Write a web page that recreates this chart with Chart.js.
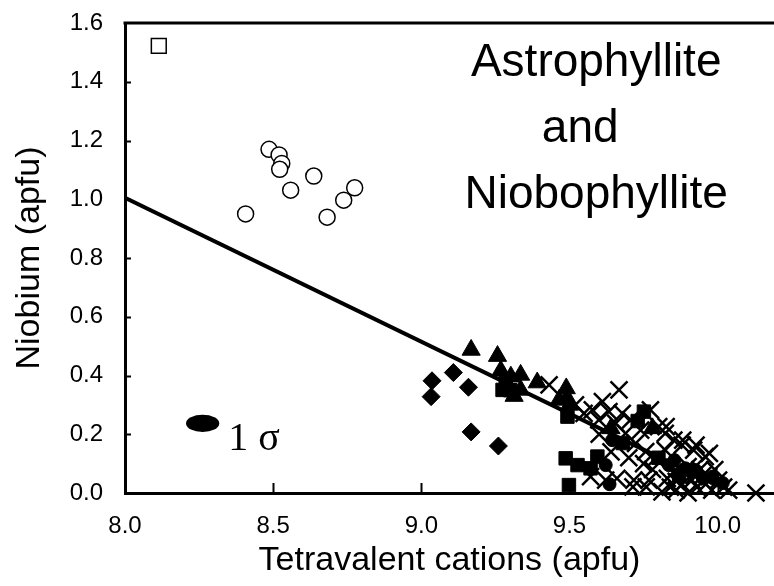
<!DOCTYPE html>
<html>
<head>
<meta charset="utf-8">
<script src="https://cdn.jsdelivr.net/npm/chart.js@4.4.1/dist/chart.umd.min.js"></script>
<style>
  html, body { margin: 0; padding: 0; background: #fff; }
</style>
</head>
<body>
<canvas id="niobium-chart" width="774" height="586"></canvas>
<script>
// Niobium vs tetravalent cations, astrophyllite group

// open square (single analysis)
const openSquare = [[8.114, 1.522]];

// open circles
const openCircles = [
  [8.486, 1.170], [8.520, 1.151], [8.529, 1.122], [8.522, 1.102], [8.637, 1.079],
  [8.559, 1.031], [8.775, 1.039], [8.738, 0.997], [8.407, 0.950], [8.682, 0.939]
];

// filled diamonds
const diamonds = [
  [9.036, 0.382], [9.033, 0.328], [9.108, 0.410], [9.159, 0.360], [9.168, 0.208], [9.260, 0.160]
];

// filled triangles
const triangles = [
  [9.168, 0.487], [9.257, 0.466], [9.268, 0.416], [9.302, 0.396], [9.335, 0.402],
  [9.313, 0.330], [9.335, 0.351], [9.391, 0.376], [9.489, 0.356], [9.465, 0.317],
  [9.492, 0.323], [9.500, 0.300], [9.640, 0.220], [9.780, 0.220]
];

// filled squares
const squares = [
  [9.274, 0.351], [9.285, 0.385], [9.300, 0.350], [9.493, 0.260], [9.487, 0.118],
  [9.527, 0.095], [9.594, 0.124], [9.571, 0.084], [9.498, 0.027], [9.751, 0.277],
  [9.730, 0.245], [9.680, 0.170], [9.800, 0.120], [9.870, 0.060]
];

// filled circles
const dots = [
  [9.622, 0.095], [9.644, 0.180], [9.635, 0.030], [9.835, 0.095], [9.891, 0.084],
  [9.925, 0.078], [9.904, 0.078], [9.854, 0.112], [9.983, 0.056], [10.017, 0.034],
  [9.950, 0.050]
];

// crosses
const crosses = [
  [9.431, 0.368], [9.549, 0.271], [9.577, 0.283], [9.599, 0.249], [9.611, 0.311],
  [9.633, 0.277], [9.656, 0.237], [9.667, 0.351], [9.678, 0.271], [9.689, 0.203],
  [9.706, 0.249], [9.723, 0.169], [9.740, 0.214], [9.757, 0.141], [9.773, 0.283],
  [9.790, 0.118], [9.801, 0.226], [9.823, 0.203], [9.823, 0.146], [9.826, 0.226],
  [9.852, 0.180], [9.882, 0.180], [9.880, 0.163], [9.919, 0.146], [9.927, 0.163],
  [9.958, 0.124], [9.972, 0.135], [9.571, 0.056], [9.622, 0.044], [9.660, 0.050],
  [9.717, 0.044], [9.714, 0.021], [9.768, 0.044], [9.759, 0.021], [9.812, 0.004],
  [9.840, 0.020], [9.860, 0.010], [9.880, 0.030], [9.900, 0.000], [9.913, 0.044],
  [9.930, 0.020], [9.950, 0.060], [9.970, 0.056], [9.980, 0.010], [10.003, 0.044],
  [10.020, 0.020], [10.037, 0.010], [10.129, 0.000], [9.850, 0.070], [9.900, 0.090],
  [9.940, 0.080], [9.640, 0.140], [9.700, 0.120], [9.750, 0.100], [9.780, 0.080],
  [9.520, 0.300], [9.600, 0.200], [9.860, 0.040], [9.920, 0.060], [9.960, 0.030],
  [9.990, 0.080], [9.830, 0.050]
];

// regression line end points
const trendLine = [[8.0, 1.005], [10.0, 0.025]];

// 1 sigma error ellipse: centre and semi-axes (apfu)
const sigmaCentre = [8.262, 0.237];
const sigmaAxes = [0.056, 0.029];

const xTicks = [8.0, 8.5, 9.0, 9.5, 10.0];
const yTicks = [0.0, 0.2, 0.4, 0.6, 0.8, 1.0, 1.2, 1.4, 1.6];
const mineralLabel = ['Astrophyllite', 'and', 'Niobophyllite'];

const SANS = '"Liberation Sans", Arial, sans-serif';
const toXY = arr => arr.map(([x, y]) => ({ x, y }));

function markerSet(label, data, style, radius, filled, width) {
  return {
    label,
    data: toXY(data),
    pointStyle: style,
    pointRadius: radius,
    backgroundColor: filled ? '#000' : '#fff',
    borderColor: '#000',
    borderWidth: width,
    clip: false
  };
}

// top border, inward ticks, sigma ellipse and mineral label
const annotate = {
  id: 'annotate',
  afterDatasetsDraw(chart) {
    const { ctx, chartArea: a } = chart;
    const xs = chart.scales.x, ys = chart.scales.y;
    ctx.save();
    ctx.strokeStyle = '#000';

    ctx.lineWidth = 3;
    ctx.beginPath();
    ctx.moveTo(a.left - 1.5, a.top);
    ctx.lineTo(a.right, a.top);
    ctx.stroke();

    ctx.lineWidth = 2;
    xTicks.slice(1).forEach(v => {
      const px = Math.round(xs.getPixelForValue(v)) + 0.5;
      ctx.beginPath();
      ctx.moveTo(px, a.bottom);
      ctx.lineTo(px, a.bottom - 10);
      ctx.stroke();
    });
    yTicks.slice(1, -1).forEach(v => {
      const py = Math.round(ys.getPixelForValue(v)) + 0.5;
      ctx.beginPath();
      ctx.moveTo(a.left, py);
      ctx.lineTo(a.left + 6, py);
      ctx.stroke();
    });

    const cx = xs.getPixelForValue(sigmaCentre[0]);
    const cy = ys.getPixelForValue(sigmaCentre[1]);
    const rx = xs.getPixelForValue(sigmaCentre[0] + sigmaAxes[0]) - cx;
    const ry = cy - ys.getPixelForValue(sigmaCentre[1] + sigmaAxes[1]);
    ctx.fillStyle = '#000';
    ctx.beginPath();
    ctx.ellipse(cx, cy, rx, ry, 0, 0, Math.PI * 2);
    ctx.fill();

    ctx.font = '40px "Liberation Serif", "DejaVu Serif", serif';
    ctx.textBaseline = 'alphabetic';
    ctx.textAlign = 'left';
    ctx.fillText('1 σ', cx + rx + 9, cy + 27);

    ctx.font = '46px ' + SANS;
    ctx.textAlign = 'center';
    const lx = xs.getPixelForValue(9.59);
    const ly = ys.getPixelForValue(1.42);
    mineralLabel.forEach((t, i) => {
      ctx.fillText(t, i === 1 ? lx - 16 : lx, ly + i * 66);
    });
    ctx.restore();
  }
};

new Chart(document.getElementById('niobium-chart'), {
  type: 'scatter',
  data: {
    datasets: [
      {
        label: 'Regression',
        type: 'line',
        data: toXY(trendLine),
        borderColor: '#000',
        borderWidth: 4,
        pointRadius: 0,
        fill: false
      },
      markerSet('Open square', openSquare, 'rect', 10.5, false, 1.5),
      markerSet('Open circles', openCircles, 'circle', 8, false, 1.5),
      markerSet('Diamonds', diamonds, 'rectRot', 9, true, 1),
      markerSet('Triangles', triangles, 'triangle', 10.5, true, 1),
      markerSet('Squares', squares, 'rect', 9.5, true, 1),
      markerSet('Circles', dots, 'circle', 6.5, true, 1),
      markerSet('Crosses', crosses, 'crossRot', 12, false, 2.5)
    ]
  },
  options: {
    responsive: false,
    animation: false,
    events: [],
    layout: { autoPadding: false, padding: { top: 23, right: 0, left: 0, bottom: 0 } },
    plugins: {
      legend: { display: false },
      tooltip: { enabled: false }
    },
    scales: {
      x: {
        type: 'linear',
        min: 8.0,
        max: 10.19,
        afterBuildTicks: s => { s.ticks = xTicks.map(v => ({ value: v })); },
        afterFit: s => { s.height = 93; s.paddingLeft = 0; s.paddingRight = 0; },
        grid: { display: false },
        border: { display: true, color: '#000', width: 3 },
        ticks: {
          color: '#000',
          padding: 11,
          maxRotation: 0,
          font: { family: SANS, size: 24 },
          callback: v => v.toFixed(1)
        },
        title: {
          display: true,
          text: 'Tetravalent cations (apfu)',
          color: '#000',
          padding: { top: 0, bottom: 5 },
          font: { family: SANS, size: 34 }
        }
      },
      y: {
        type: 'linear',
        min: 0,
        max: 1.6,
        afterBuildTicks: s => { s.ticks = yTicks.map(v => ({ value: v })); },
        afterFit: s => { s.width = 125; s.paddingTop = 0; s.paddingBottom = 0; },
        grid: { display: false },
        border: { display: true, color: '#000', width: 3 },
        ticks: {
          color: '#000',
          padding: 14,
          font: { family: SANS, size: 24 },
          callback: v => v.toFixed(1)
        },
        title: {
          display: true,
          text: 'Niobium (apfu)',
          color: '#000',
          padding: { top: 9, bottom: 0 },
          font: { family: SANS, size: 34 }
        }
      }
    }
  },
  plugins: [annotate]
});
</script>
</body>
</html>
